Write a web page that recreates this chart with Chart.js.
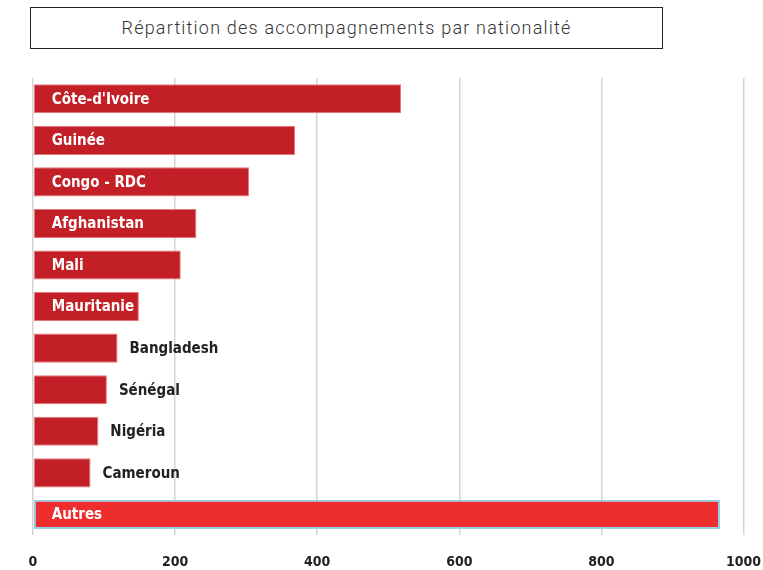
<!DOCTYPE html>
<html lang="fr">
<head>
<meta charset="utf-8">
<script src="https://cdn.jsdelivr.net/npm/chart.js@4.4.0/dist/chart.umd.min.js"></script>
<style>
    html, body { margin: 0; padding: 0; background: #fff; }
    #wrap { position: relative; width: 763px; height: 570px; }
    #titre {
        position: absolute; left: 30px; top: 7px; width: 631px; height: 40px;
        border: 1px solid #222; box-sizing: content-box;
        font-family: "Roboto", sans-serif; font-weight: 300; font-size: 18px;
        color: #333; text-align: center; line-height: 40px; letter-spacing: 1.2px;
    }
    canvas { position: absolute; left: 0; top: 0; }
</style>
</head>
<body>
<div id="wrap">
    <div id="titre">Répartition des accompagnements par nationalité</div>
    <canvas id="chartNat" width="763" height="570"></canvas>
</div>
<script>
// Données
const pays = ['Côte-d\'Ivoire', 'Guinée', 'Congo - RDC', 'Afghanistan', 'Mali', 'Mauritanie',
    'Bangladesh', 'Sénégal', 'Nigéria', 'Cameroun', 'Autres'];
const accompagnements = [518, 369, 304, 230, 208, 149, 119, 104, 92, 81, 967];
const graduations = [0, 200, 400, 600, 800, 1000];

const rouge = '#c21f26';
const rougeAutres = '#ee2e2e';

const couleurs = pays.map(p => p === 'Autres' ? rougeAutres : rouge);
const bordures = pays.map(p => p === 'Autres' ? '#93d2e8' : '#e8777b');
const epaisseurs = pays.map(p => p === 'Autres' ? 2 : 1);

const policeLabel = 'bold 15px "DejaVu Sans Condensed", sans-serif';

// Étiquettes dans la barre (blanc) ou à droite (noir) selon la place
const etiquettes = {
    id: 'etiquettes',
    afterDatasetsDraw(chart) {
        const ctx = chart.ctx;
        const meta = chart.getDatasetMeta(0);
        ctx.save();
        ctx.font = policeLabel;
        ctx.textBaseline = 'middle';
        meta.data.forEach((bar, i) => {
            const txt = pays[i];
            const w = ctx.measureText(txt).width;
            const largeur = bar.x - bar.base;
            if (largeur >= w + 20) {
                ctx.fillStyle = '#fff';
                ctx.fillText(txt, bar.base + 18, bar.y + 1);
            } else {
                ctx.fillStyle = '#222';
                ctx.fillText(txt, bar.x + 12, bar.y + 1);
            }
        });
        ctx.restore();
    }
};

const ctx = document.getElementById('chartNat').getContext('2d');
new Chart(ctx, {
    type: 'bar',
    data: {
        labels: pays,
        datasets: [{
            data: accompagnements,
            backgroundColor: couleurs,
            borderColor: bordures,
            borderWidth: epaisseurs,
            borderSkipped: false,
            categoryPercentage: 0.7,
            barPercentage: 1.0
        }]
    },
    options: {
        indexAxis: 'y',
        responsive: false,
        animation: false,
        layout: { padding: { top: 78, left: 33, right: 3, bottom: -3 } },
        plugins: {
            legend: { display: false },
            tooltip: { enabled: false }
        },
        scales: {
            x: {
                min: 0,
                max: 1000,
                afterBuildTicks(axis) {
                    axis.ticks = graduations.map(v => ({ value: v }));
                },
                grid: { color: '#d4d4d4', lineWidth: 1.5, drawTicks: true, tickLength: 17, tickColor: 'rgba(0,0,0,0)' },
                border: { display: false },
                ticks: {
                    padding: 2,
                    maxRotation: 0,
                    color: '#222',
                    font: { family: '"DejaVu Sans Condensed", sans-serif', weight: 'bold', size: 14 },
                    callback: v => String(v)
                }
            },
            y: {
                display: false
            }
        }
    },
    plugins: [etiquettes]
});
</script>
</body>
</html>
